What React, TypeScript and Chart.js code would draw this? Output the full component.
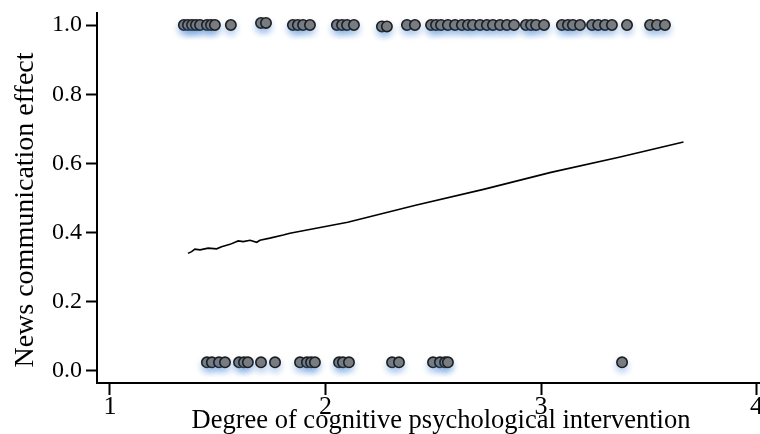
import React, { useEffect, useRef } from "react";
import { Chart, registerables } from "chart.js";

Chart.register(...registerables);

// ---- data ----
const xTickValues = [1, 2, 3, 4];
const yTickValues = [0, 0.2, 0.4, 0.6, 0.8, 1.0];

const xTitle = "Degree of cognitive psychological intervention";
const yTitle = "News communication effect";

const topX = [
  1.343, 1.362, 1.381, 1.399, 1.418, 1.45, 1.469, 1.487, 1.561, 1.701, 1.724,
  1.849, 1.872, 1.896, 1.928, 2.053, 2.077, 2.1, 2.132, 2.262, 2.285, 2.378,
  2.415, 2.49, 2.513, 2.536, 2.568, 2.601, 2.633, 2.661, 2.684, 2.717, 2.749,
  2.777, 2.81, 2.842, 2.875, 2.93, 2.954, 2.977, 3.014, 3.097, 3.125, 3.148,
  3.181, 3.237, 3.265, 3.297, 3.329, 3.399, 3.506, 3.538, 3.575,
];
const topY = [
  1, 1, 1, 1, 1, 1, 1, 1, 1, 1.006, 1.006, 1, 1, 1, 1, 1, 1, 1, 1, 0.996,
  0.996, 1, 1, 1, 1, 1, 1, 1, 1, 1, 1, 1, 1, 1, 1, 1, 1, 1, 1, 1, 1, 1, 1, 1,
  1, 1, 1, 1, 1, 1, 1, 1, 1,
];

const bottomX = [
  1.45, 1.473, 1.506, 1.534, 1.599, 1.622, 1.64, 1.701, 1.766, 1.882, 1.914,
  1.933, 1.951, 2.063, 2.081, 2.109, 2.309, 2.341, 2.499, 2.531, 2.555, 2.568,
  3.376,
];
const bottomY = [
  0.025, 0.025, 0.025, 0.025, 0.025, 0.025, 0.025, 0.025, 0.025, 0.025, 0.025,
  0.025, 0.025, 0.025, 0.025, 0.025, 0.025, 0.025, 0.025, 0.025, 0.025, 0.025,
  0.025,
];

const fitX = [
  1.362, 1.379, 1.394, 1.418, 1.456, 1.495, 1.518, 1.557, 1.595, 1.619, 1.65,
  1.681, 1.696, 1.742, 1.804, 1.835, 2.103, 2.418, 2.733, 3.046, 3.362, 3.661,
];
const fitY = [
  0.34, 0.345, 0.352, 0.35, 0.355, 0.353, 0.359, 0.366, 0.376, 0.374, 0.378,
  0.372, 0.378, 0.384, 0.393, 0.398, 0.43, 0.479, 0.525, 0.574, 0.618, 0.662,
];

const SERIF = '"Liberation Serif", "Times New Roman", serif';

const shadowPlugin = {
  id: "pointShadow",
  beforeDatasetDraw(chart: any, args: any) {
    const ds = chart.data.datasets[args.index];
    if (ds.type === "line") return;
    const ctx = chart.ctx;
    ctx.save();
    ctx.shadowColor = "rgba(80,140,215,0.38)";
    ctx.shadowBlur = 6;
    ctx.shadowOffsetY = 4;
  },
  afterDatasetDraw(chart: any, args: any) {
    const ds = chart.data.datasets[args.index];
    if (ds.type === "line") return;
    chart.ctx.restore();
  },
};

const titlePlugin = {
  id: "axisTitles",
  afterDraw(chart: any) {
    const ctx = chart.ctx;
    ctx.save();
    ctx.fillStyle = "#000";
    ctx.textAlign = "center";
    ctx.textBaseline = "alphabetic";
    ctx.font = `26.5px ${SERIF}`;
    ctx.fillText(xTitle, 441, 428);
    ctx.translate(33, 210);
    ctx.rotate(-Math.PI / 2);
    ctx.font = `28px ${SERIF}`;
    ctx.fillText(yTitle, 0, 0);
    ctx.restore();
  },
};

export default function App() {
  const ref = useRef<HTMLCanvasElement | null>(null);

  useEffect(() => {
    if (!ref.current) return;
    const pointStyle = {
      backgroundColor: "#7c7c7c",
      borderColor: "#1e1e1e",
      borderWidth: 1.6,
      pointRadius: 5.2,
      pointHoverRadius: 5.2,
    };
    const chart = new Chart(ref.current, {
      type: "scatter",
      data: {
        datasets: [
          {
            type: "line",
            data: fitX.map((x, i) => ({ x, y: fitY[i] })),
            borderColor: "#000",
            borderWidth: 1.6,
            pointRadius: 0,
            fill: false,
            tension: 0,
          } as any,
          { data: topX.map((x, i) => ({ x, y: topY[i] })), ...pointStyle },
          { data: bottomX.map((x, i) => ({ x, y: bottomY[i] })), ...pointStyle },
        ],
      },
      options: {
        responsive: false,
        animation: false,
        devicePixelRatio: 1,
        layout: {
          autoPadding: false,
          padding: { top: 13, right: 0, left: 0, bottom: 0 },
        },
        plugins: { legend: { display: false }, tooltip: { enabled: false } },
        scales: {
          x: {
            type: "linear",
            min: 0.94,
            max: 4.016,
            afterBuildTicks: (s: any) => {
              s.ticks = xTickValues.map((v) => ({ value: v }));
            },
            afterFit: (s: any) => {
              s.height = 51;
              s.paddingLeft = 0;
              s.paddingRight = 0;
            },
            grid: {
              drawOnChartArea: false,
              drawTicks: true,
              tickLength: 12,
              tickWidth: 2,
              tickColor: "#000",
            },
            border: { color: "#000", width: 2 },
            ticks: {
              color: "#000",
              font: { family: SERIF, size: 26 },
              padding: -3,
              maxRotation: 0,
              autoSkip: false,
              callback: (v: any) => String(v),
            },
          },
          y: {
            type: "linear",
            min: -0.0347,
            max: 1.0347,
            afterBuildTicks: (s: any) => {
              s.ticks = yTickValues.map((v) => ({ value: v }));
            },
            afterFit: (s: any) => {
              s.width = 97;
              s.paddingTop = 0;
              s.paddingBottom = 0;
            },
            grid: {
              drawOnChartArea: false,
              drawTicks: true,
              tickLength: 11,
              tickWidth: 2,
              tickColor: "#000",
            },
            border: { color: "#000", width: 2 },
            ticks: {
              color: "#000",
              font: { family: SERIF, size: 24 },
              padding: 4,
              autoSkip: false,
              callback: (v: any) => Number(v).toFixed(1),
            },
          },
        },
      },
      plugins: [shadowPlugin, titlePlugin],
    });
    return () => chart.destroy();
  }, []);

  return (
    <div
      style={{
        position: "absolute",
        left: 0,
        top: 0,
        width: 760,
        height: 434,
        background: "#fff",
      }}
    >
      <canvas ref={ref} width={760} height={434} />
    </div>
  );
}
